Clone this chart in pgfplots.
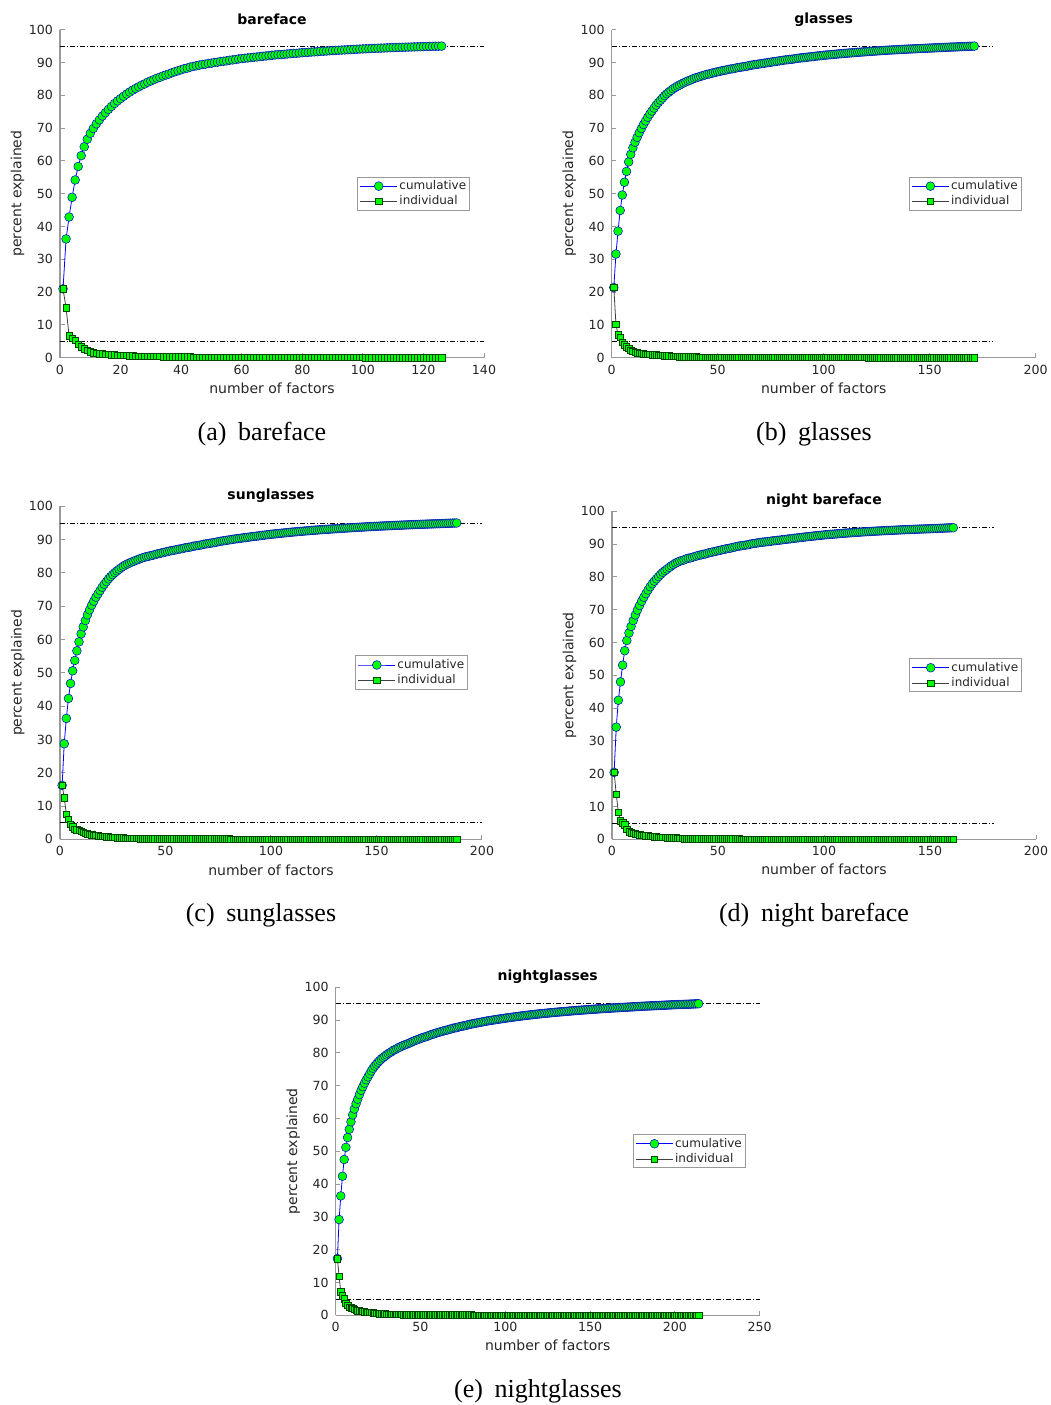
\documentclass[border=0pt]{standalone}
\usepackage{pgfplots}
\pgfplotsset{compat=1.18}
\usepackage{pgfplotstable}
\usepackage{fontspec}
\setmainfont{Liberation Serif}
\newfontfamily\dv{DejaVu Sans}
\definecolor{mgreen}{rgb}{0,1,0}
\definecolor{mtext}{rgb}{0.15,0.15,0.15}
\definecolor{maxis}{rgb}{0.6,0.6,0.6}

\pgfplotstableread[row sep=\\]{x c i\\
1 21.0 21.0\\ 2 36.2 15.2\\ 3 42.9 6.7\\ 4 48.9 6.0\\ 5 54.2 5.3\\ 6 58.3 4.1\\ 7 61.6 3.3\\ 8 64.3 2.7\\ 9 66.6 2.3\\ 10 68.4 1.8\\
11 69.9 1.5\\ 12 71.3 1.35\\ 13 72.5 1.25\\ 14 73.7 1.15\\ 15 74.7 1.05\\ 16 75.7 1.0\\ 17 76.6 0.9\\ 18 77.5 0.85\\ 19 78.3 0.8\\ 20 79.0 0.75\\
21 79.7 0.72\\ 22 80.4 0.67\\ 23 81.0 0.62\\ 24 81.6 0.57\\ 25 82.1 0.53\\ 26 82.6 0.5\\ 27 83.1 0.47\\ 28 83.5 0.45\\ 29 84.0 0.43\\ 30 84.4 0.41\\
31 84.8 0.39\\ 32 85.2 0.37\\ 33 85.5 0.36\\ 34 85.9 0.35\\ 35 86.2 0.34\\ 36 86.5 0.33\\ 37 86.9 0.33\\ 38 87.2 0.32\\ 39 87.5 0.31\\ 40 87.8 0.30\\
41 88.1 0.28\\ 42 88.3 0.26\\ 43 88.6 0.24\\ 44 88.8 0.22\\ 45 89.0 0.20\\ 46 89.2 0.19\\ 47 89.4 0.18\\ 48 89.5 0.17\\ 49 89.7 0.16\\ 50 89.8 0.15\\
51 90.0 0.14\\ 52 90.1 0.14\\ 53 90.3 0.14\\ 54 90.4 0.14\\ 55 90.5 0.14\\ 56 90.7 0.14\\ 57 90.8 0.14\\ 58 90.9 0.14\\ 59 91.1 0.14\\ 60 91.2 0.14\\
61 91.3 0.1\\ 62 91.4 0.1\\ 63 91.5 0.1\\ 64 91.6 0.1\\ 65 91.7 0.1\\ 66 91.8 0.1\\ 67 91.9 0.1\\ 68 92.0 0.1\\ 69 92.1 0.1\\ 70 92.2 0.1\\
71 92.3 0.08\\ 72 92.4 0.08\\ 73 92.4 0.08\\ 74 92.5 0.08\\ 75 92.6 0.08\\ 76 92.7 0.08\\ 77 92.8 0.08\\ 78 92.8 0.08\\ 79 92.9 0.08\\ 80 93.0 0.08\\
81 93.05 0.065\\ 82 93.1 0.065\\ 83 93.2 0.065\\ 84 93.25 0.065\\ 85 93.3 0.065\\ 86 93.4 0.065\\ 87 93.45 0.065\\ 88 93.5 0.065\\ 89 93.6 0.065\\ 90 93.65 0.065\\
91 93.7 0.05\\ 92 93.75 0.05\\ 93 93.8 0.05\\ 94 93.85 0.05\\ 95 93.9 0.05\\ 96 93.95 0.05\\ 97 94.0 0.05\\ 98 94.05 0.05\\ 99 94.1 0.05\\ 100 94.15 0.05\\
101 94.19 0.04\\ 102 94.23 0.04\\ 103 94.27 0.04\\ 104 94.31 0.04\\ 105 94.35 0.04\\ 106 94.39 0.04\\ 107 94.43 0.04\\ 108 94.47 0.04\\ 109 94.51 0.04\\ 110 94.55 0.04\\
111 94.58 0.03\\ 112 94.61 0.03\\ 113 94.64 0.03\\ 114 94.67 0.03\\ 115 94.70 0.03\\ 116 94.73 0.03\\ 117 94.76 0.03\\ 118 94.79 0.03\\ 119 94.82 0.03\\ 120 94.85 0.03\\
121 94.88 0.025\\ 122 94.9 0.025\\ 123 94.93 0.025\\ 124 94.95 0.025\\ 125 94.98 0.025\\ 126 95.0 0.025\\
}\tA

\pgfplotstableread[row sep=\\]{x c i\\
1 21.4 21.4\\ 2 31.6 10.2\\ 3 38.6 7.0\\ 4 44.9 6.3\\ 5 49.6 4.7\\ 6 53.5 3.9\\ 7 56.8 3.3\\ 8 59.7 2.9\\ 9 62.0 2.3\\ 10 64.0 2.0\\
11 65.7 1.7\\ 12 67.2 1.5\\ 13 68.6 1.4\\ 14 69.9 1.3\\ 15 71.1 1.2\\ 16 72.2 1.1\\ 17 73.3 1.05\\ 18 74.3 1.0\\ 19 75.2 0.95\\ 20 76.1 0.9\\
21 77.0 0.85\\ 22 77.8 0.8\\ 23 78.5 0.75\\ 24 79.2 0.7\\ 25 79.9 0.65\\ 26 80.5 0.58\\ 27 81.0 0.54\\ 28 81.5 0.5\\ 29 82.0 0.47\\ 30 82.4 0.45\\
31 82.8 0.38\\ 32 83.1 0.35\\ 33 83.5 0.33\\ 34 83.8 0.31\\ 35 84.1 0.30\\ 36 84.4 0.29\\ 37 84.6 0.28\\ 38 84.9 0.27\\ 39 85.2 0.25\\ 40 85.4 0.24\\
41 85.6 0.2\\ 42 85.8 0.2\\ 43 86.0 0.19\\ 44 86.2 0.19\\ 45 86.4 0.18\\ 46 86.5 0.18\\ 47 86.7 0.17\\ 48 86.9 0.17\\ 49 87.0 0.16\\ 50 87.2 0.16\\
51 87.3 0.13\\ 52 87.5 0.13\\ 53 87.6 0.13\\ 54 87.7 0.13\\ 55 87.9 0.13\\ 56 88.0 0.13\\ 57 88.1 0.13\\ 58 88.2 0.13\\ 59 88.4 0.13\\ 60 88.5 0.13\\
61 88.6 0.11\\ 62 88.7 0.11\\ 63 88.8 0.11\\ 64 88.9 0.11\\ 65 89.1 0.11\\ 66 89.2 0.11\\ 67 89.3 0.11\\ 68 89.4 0.11\\ 69 89.5 0.11\\ 70 89.6 0.11\\
71 89.7 0.1\\ 72 89.8 0.1\\ 73 89.9 0.1\\ 74 90.0 0.1\\ 75 90.1 0.1\\ 76 90.2 0.1\\ 77 90.3 0.1\\ 78 90.4 0.1\\ 79 90.5 0.1\\ 80 90.6 0.1\\
81 90.7 0.085\\ 82 90.8 0.085\\ 83 90.85 0.085\\ 84 90.95 0.085\\ 85 91.0 0.085\\ 86 91.1 0.085\\ 87 91.2 0.085\\ 88 91.3 0.085\\ 89 91.4 0.085\\ 90 91.45 0.085\\
91 91.5 0.075\\ 92 91.6 0.075\\ 93 91.7 0.075\\ 94 91.75 0.075\\ 95 91.8 0.075\\ 96 91.9 0.075\\ 97 92.0 0.075\\ 98 92.05 0.075\\ 99 92.1 0.075\\ 100 92.2 0.075\\
101 92.26 0.06\\ 102 92.32 0.06\\ 103 92.38 0.06\\ 104 92.44 0.06\\ 105 92.5 0.06\\ 106 92.56 0.06\\ 107 92.62 0.06\\ 108 92.68 0.06\\ 109 92.74 0.06\\ 110 92.8 0.06\\
111 92.85 0.05\\ 112 92.9 0.05\\ 113 92.95 0.05\\ 114 93.0 0.05\\ 115 93.05 0.05\\ 116 93.1 0.05\\ 117 93.15 0.05\\ 118 93.2 0.05\\ 119 93.25 0.05\\ 120 93.3 0.05\\
121 93.35 0.045\\ 122 93.39 0.045\\ 123 93.44 0.045\\ 124 93.48 0.045\\ 125 93.53 0.045\\ 126 93.57 0.045\\ 127 93.62 0.045\\ 128 93.66 0.045\\ 129 93.71 0.045\\ 130 93.75 0.045\\
131 93.79 0.035\\ 132 93.82 0.035\\ 133 93.86 0.035\\ 134 93.89 0.035\\ 135 93.93 0.035\\ 136 93.96 0.035\\ 137 94.0 0.035\\ 138 94.03 0.035\\ 139 94.07 0.035\\ 140 94.1 0.035\\
141 94.13 0.03\\ 142 94.16 0.03\\ 143 94.19 0.03\\ 144 94.22 0.03\\ 145 94.25 0.03\\ 146 94.28 0.03\\ 147 94.31 0.03\\ 148 94.34 0.03\\ 149 94.37 0.03\\ 150 94.4 0.03\\
151 94.43 0.03\\ 152 94.46 0.03\\ 153 94.49 0.03\\ 154 94.52 0.03\\ 155 94.55 0.03\\ 156 94.58 0.03\\ 157 94.61 0.03\\ 158 94.64 0.03\\ 159 94.67 0.03\\ 160 94.7 0.03\\
161 94.73 0.027\\ 162 94.75 0.027\\ 163 94.78 0.027\\ 164 94.81 0.027\\ 165 94.84 0.027\\ 166 94.86 0.027\\ 167 94.89 0.027\\ 168 94.92 0.027\\ 169 94.95 0.027\\ 170 94.97 0.027\\ 171 95.0 0.027\\
}\tB

\pgfplotstableread[row sep=\\]{x c i\\
1 16.2 16.2\\ 2 28.7 12.5\\ 3 36.3 7.6\\ 4 42.3 6.0\\ 5 46.8 4.5\\ 6 50.6 3.8\\ 7 53.7 3.1\\ 8 56.6 2.9\\ 9 59.3 2.7\\ 10 61.7 2.4\\
11 63.8 2.1\\ 12 65.7 1.9\\ 13 67.4 1.7\\ 14 68.9 1.5\\ 15 70.3 1.35\\ 16 71.5 1.25\\ 17 72.7 1.15\\ 18 73.7 1.05\\ 19 74.7 1.0\\ 20 75.7 0.95\\
21 76.6 0.9\\ 22 77.4 0.82\\ 23 78.2 0.76\\ 24 78.9 0.7\\ 25 79.5 0.64\\ 26 80.1 0.58\\ 27 80.6 0.53\\ 28 81.1 0.49\\ 29 81.6 0.45\\ 30 82.0 0.43\\
31 82.4 0.36\\ 32 82.7 0.33\\ 33 83.0 0.30\\ 34 83.3 0.28\\ 35 83.5 0.27\\ 36 83.8 0.25\\ 37 84.0 0.24\\ 38 84.3 0.23\\ 39 84.5 0.22\\ 40 84.7 0.22\\
41 84.9 0.16\\ 42 85.0 0.16\\ 43 85.2 0.16\\ 44 85.3 0.16\\ 45 85.5 0.16\\ 46 85.7 0.16\\ 47 85.8 0.16\\ 48 86.0 0.16\\ 49 86.1 0.16\\ 50 86.3 0.16\\
51 86.4 0.13\\ 52 86.6 0.13\\ 53 86.7 0.13\\ 54 86.8 0.13\\ 55 86.95 0.13\\ 56 87.1 0.13\\ 57 87.2 0.13\\ 58 87.3 0.13\\ 59 87.5 0.13\\ 60 87.6 0.13\\
61 87.7 0.12\\ 62 87.8 0.12\\ 63 88.0 0.12\\ 64 88.1 0.12\\ 65 88.2 0.12\\ 66 88.3 0.12\\ 67 88.4 0.12\\ 68 88.6 0.12\\ 69 88.7 0.12\\ 70 88.8 0.12\\
71 88.9 0.11\\ 72 89.0 0.11\\ 73 89.1 0.11\\ 74 89.2 0.11\\ 75 89.4 0.11\\ 76 89.5 0.11\\ 77 89.6 0.11\\ 78 89.7 0.11\\ 79 89.8 0.11\\ 80 89.9 0.11\\
81 90.0 0.09\\ 82 90.1 0.09\\ 83 90.2 0.09\\ 84 90.3 0.09\\ 85 90.35 0.09\\ 86 90.45 0.09\\ 87 90.55 0.09\\ 88 90.6 0.09\\ 89 90.7 0.09\\ 90 90.8 0.09\\
91 90.9 0.08\\ 92 90.95 0.08\\ 93 91.05 0.08\\ 94 91.1 0.08\\ 95 91.2 0.08\\ 96 91.3 0.08\\ 97 91.35 0.08\\ 98 91.45 0.08\\ 99 91.5 0.08\\ 100 91.6 0.08\\
101 91.67 0.065\\ 102 91.73 0.065\\ 103 91.8 0.065\\ 104 91.86 0.065\\ 105 91.93 0.065\\ 106 91.99 0.065\\ 107 92.06 0.065\\ 108 92.12 0.065\\ 109 92.19 0.065\\ 110 92.25 0.065\\
111 92.31 0.055\\ 112 92.36 0.055\\ 113 92.42 0.055\\ 114 92.47 0.055\\ 115 92.53 0.055\\ 116 92.58 0.055\\ 117 92.64 0.055\\ 118 92.69 0.055\\ 119 92.75 0.055\\ 120 92.8 0.055\\
121 92.85 0.045\\ 122 92.89 0.045\\ 123 92.94 0.045\\ 124 92.98 0.045\\ 125 93.03 0.045\\ 126 93.07 0.045\\ 127 93.12 0.045\\ 128 93.16 0.045\\ 129 93.21 0.045\\ 130 93.25 0.045\\
131 93.29 0.04\\ 132 93.33 0.04\\ 133 93.37 0.04\\ 134 93.41 0.04\\ 135 93.45 0.04\\ 136 93.49 0.04\\ 137 93.53 0.04\\ 138 93.57 0.04\\ 139 93.61 0.04\\ 140 93.65 0.04\\
141 93.69 0.035\\ 142 93.72 0.035\\ 143 93.76 0.035\\ 144 93.79 0.035\\ 145 93.83 0.035\\ 146 93.86 0.035\\ 147 93.9 0.035\\ 148 93.93 0.035\\ 149 93.97 0.035\\ 150 94.0 0.035\\
151 94.03 0.03\\ 152 94.06 0.03\\ 153 94.09 0.03\\ 154 94.12 0.03\\ 155 94.15 0.03\\ 156 94.18 0.03\\ 157 94.21 0.03\\ 158 94.24 0.03\\ 159 94.27 0.03\\ 160 94.3 0.03\\
161 94.33 0.027\\ 162 94.35 0.027\\ 163 94.38 0.027\\ 164 94.41 0.027\\ 165 94.44 0.027\\ 166 94.46 0.027\\ 167 94.49 0.027\\ 168 94.52 0.027\\ 169 94.54 0.027\\ 170 94.57 0.027\\
171 94.59 0.023\\ 172 94.62 0.023\\ 173 94.64 0.023\\ 174 94.66 0.023\\ 175 94.69 0.023\\ 176 94.71 0.023\\ 177 94.73 0.023\\ 178 94.75 0.023\\ 179 94.78 0.023\\ 180 94.8 0.023\\
181 94.83 0.025\\ 182 94.85 0.025\\ 183 94.88 0.025\\ 184 94.9 0.025\\ 185 94.93 0.025\\ 186 94.95 0.025\\ 187 94.98 0.025\\ 188 95.0 0.025\\
}\tC

\pgfplotstableread[row sep=\\]{x c i\\
1 20.4 20.4\\ 2 34.2 13.8\\ 3 42.4 8.2\\ 4 48.0 5.6\\ 5 53.1 5.1\\ 6 57.5 4.4\\ 7 60.6 3.1\\ 8 62.9 2.3\\ 9 64.9 2.0\\ 10 66.7 1.8\\
11 68.4 1.65\\ 12 69.9 1.5\\ 13 71.3 1.4\\ 14 72.6 1.3\\ 15 73.8 1.2\\ 16 74.9 1.1\\ 17 76.0 1.05\\ 18 77.0 1.0\\ 19 77.9 0.9\\ 20 78.7 0.8\\
21 79.4 0.75\\ 22 80.1 0.7\\ 23 80.8 0.65\\ 24 81.4 0.6\\ 25 81.9 0.55\\ 26 82.4 0.52\\ 27 82.9 0.49\\ 28 83.4 0.46\\ 29 83.8 0.44\\ 30 84.2 0.42\\
31 84.5 0.3\\ 32 84.8 0.27\\ 33 85.0 0.25\\ 34 85.2 0.23\\ 35 85.5 0.22\\ 36 85.7 0.2\\ 37 85.8 0.19\\ 38 86.0 0.18\\ 39 86.2 0.18\\ 40 86.4 0.18\\
41 86.6 0.16\\ 42 86.7 0.16\\ 43 86.9 0.16\\ 44 87.0 0.16\\ 45 87.2 0.16\\ 46 87.4 0.16\\ 47 87.5 0.16\\ 48 87.7 0.16\\ 49 87.8 0.16\\ 50 88.0 0.16\\
51 88.1 0.14\\ 52 88.3 0.14\\ 53 88.4 0.14\\ 54 88.6 0.14\\ 55 88.7 0.14\\ 56 88.8 0.14\\ 57 89.0 0.14\\ 58 89.1 0.14\\ 59 89.3 0.14\\ 60 89.4 0.14\\
61 89.5 0.11\\ 62 89.6 0.11\\ 63 89.7 0.11\\ 64 89.8 0.11\\ 65 89.95 0.11\\ 66 90.1 0.11\\ 67 90.2 0.11\\ 68 90.3 0.11\\ 69 90.4 0.11\\ 70 90.5 0.11\\
71 90.6 0.08\\ 72 90.65 0.08\\ 73 90.75 0.08\\ 74 90.8 0.08\\ 75 90.9 0.08\\ 76 91.0 0.08\\ 77 91.05 0.08\\ 78 91.15 0.08\\ 79 91.2 0.08\\ 80 91.3 0.08\\
81 91.4 0.08\\ 82 91.45 0.08\\ 83 91.55 0.08\\ 84 91.6 0.08\\ 85 91.7 0.08\\ 86 91.8 0.08\\ 87 91.85 0.08\\ 88 91.95 0.08\\ 89 92.0 0.08\\ 90 92.1 0.08\\
91 92.17 0.07\\ 92 92.24 0.07\\ 93 92.31 0.07\\ 94 92.38 0.07\\ 95 92.45 0.07\\ 96 92.52 0.07\\ 97 92.59 0.07\\ 98 92.66 0.07\\ 99 92.73 0.07\\ 100 92.8 0.07\\
101 92.86 0.055\\ 102 92.91 0.055\\ 103 92.97 0.055\\ 104 93.02 0.055\\ 105 93.08 0.055\\ 106 93.13 0.055\\ 107 93.19 0.055\\ 108 93.24 0.055\\ 109 93.3 0.055\\ 110 93.35 0.055\\
111 93.39 0.045\\ 112 93.44 0.045\\ 113 93.48 0.045\\ 114 93.53 0.045\\ 115 93.57 0.045\\ 116 93.62 0.045\\ 117 93.66 0.045\\ 118 93.71 0.045\\ 119 93.75 0.045\\ 120 93.8 0.045\\
121 93.84 0.035\\ 122 93.87 0.035\\ 123 93.91 0.035\\ 124 93.94 0.035\\ 125 93.98 0.035\\ 126 94.01 0.035\\ 127 94.05 0.035\\ 128 94.08 0.035\\ 129 94.12 0.035\\ 130 94.15 0.035\\
131 94.18 0.03\\ 132 94.21 0.03\\ 133 94.24 0.03\\ 134 94.27 0.03\\ 135 94.3 0.03\\ 136 94.33 0.03\\ 137 94.36 0.03\\ 138 94.39 0.03\\ 139 94.42 0.03\\ 140 94.45 0.03\\
141 94.48 0.025\\ 142 94.5 0.025\\ 143 94.53 0.025\\ 144 94.55 0.025\\ 145 94.58 0.025\\ 146 94.6 0.025\\ 147 94.63 0.025\\ 148 94.65 0.025\\ 149 94.68 0.025\\ 150 94.7 0.025\\
151 94.73 0.027\\ 152 94.75 0.027\\ 153 94.78 0.027\\ 154 94.81 0.027\\ 155 94.84 0.027\\ 156 94.86 0.027\\ 157 94.89 0.027\\ 158 94.92 0.027\\ 159 94.95 0.027\\ 160 94.97 0.027\\ 161 95.0 0.027\\
}\tD

\pgfplotstableread[row sep=\\]{x c i\\
1 17.3 17.3\\ 2 29.2 11.9\\ 3 36.4 7.2\\ 4 42.4 6.0\\ 5 47.5 5.1\\ 6 51.2 3.7\\ 7 54.2 3.0\\ 8 56.7 2.5\\ 9 59.0 2.3\\ 10 61.1 2.1\\
11 62.9 1.8\\ 12 64.5 1.6\\ 13 65.9 1.45\\ 14 67.3 1.35\\ 15 68.6 1.25\\ 16 69.7 1.15\\ 17 70.8 1.05\\ 18 71.8 1.0\\ 19 72.7 0.95\\ 20 73.6 0.9\\
21 74.5 0.85\\ 22 75.3 0.8\\ 23 76.0 0.7\\ 24 76.6 0.62\\ 25 77.2 0.57\\ 26 77.7 0.52\\ 27 78.2 0.48\\ 28 78.6 0.45\\ 29 79.0 0.42\\ 30 79.4 0.40\\
31 79.8 0.37\\ 32 80.1 0.35\\ 33 80.4 0.33\\ 34 80.8 0.31\\ 35 81.0 0.29\\ 36 81.3 0.27\\ 37 81.6 0.26\\ 38 81.8 0.25\\ 39 82.1 0.24\\ 40 82.3 0.23\\
41 82.5 0.21\\ 42 82.7 0.21\\ 43 82.9 0.21\\ 44 83.1 0.21\\ 45 83.4 0.21\\ 46 83.6 0.21\\ 47 83.8 0.21\\ 48 84.0 0.21\\ 49 84.2 0.21\\ 50 84.4 0.21\\
51 84.6 0.18\\ 52 84.8 0.18\\ 53 84.9 0.18\\ 54 85.1 0.18\\ 55 85.3 0.18\\ 56 85.5 0.18\\ 57 85.7 0.18\\ 58 85.8 0.18\\ 59 86.0 0.18\\ 60 86.2 0.18\\
61 86.3 0.14\\ 62 86.5 0.14\\ 63 86.6 0.14\\ 64 86.8 0.14\\ 65 86.9 0.14\\ 66 87.0 0.14\\ 67 87.2 0.14\\ 68 87.3 0.14\\ 69 87.5 0.14\\ 70 87.6 0.14\\
71 87.7 0.12\\ 72 87.8 0.12\\ 73 88.0 0.12\\ 74 88.1 0.12\\ 75 88.2 0.12\\ 76 88.3 0.12\\ 77 88.4 0.12\\ 78 88.6 0.12\\ 79 88.7 0.12\\ 80 88.8 0.12\\
81 88.9 0.1\\ 82 89.0 0.1\\ 83 89.1 0.1\\ 84 89.2 0.1\\ 85 89.3 0.1\\ 86 89.4 0.1\\ 87 89.5 0.1\\ 88 89.6 0.1\\ 89 89.7 0.1\\ 90 89.8 0.1\\
91 89.9 0.08\\ 92 89.95 0.08\\ 93 90.05 0.08\\ 94 90.1 0.08\\ 95 90.2 0.08\\ 96 90.3 0.08\\ 97 90.35 0.08\\ 98 90.45 0.08\\ 99 90.5 0.08\\ 100 90.6 0.08\\
101 90.67 0.07\\ 102 90.74 0.07\\ 103 90.81 0.07\\ 104 90.88 0.07\\ 105 90.95 0.07\\ 106 91.02 0.07\\ 107 91.09 0.07\\ 108 91.16 0.07\\ 109 91.23 0.07\\ 110 91.3 0.07\\
111 91.36 0.06\\ 112 91.42 0.06\\ 113 91.48 0.06\\ 114 91.54 0.06\\ 115 91.6 0.06\\ 116 91.66 0.06\\ 117 91.72 0.06\\ 118 91.78 0.06\\ 119 91.84 0.06\\ 120 91.9 0.06\\
121 91.95 0.05\\ 122 92.0 0.05\\ 123 92.05 0.05\\ 124 92.1 0.05\\ 125 92.15 0.05\\ 126 92.2 0.05\\ 127 92.25 0.05\\ 128 92.3 0.05\\ 129 92.35 0.05\\ 130 92.4 0.05\\
131 92.45 0.045\\ 132 92.49 0.045\\ 133 92.54 0.045\\ 134 92.58 0.045\\ 135 92.63 0.045\\ 136 92.67 0.045\\ 137 92.72 0.045\\ 138 92.76 0.045\\ 139 92.81 0.045\\ 140 92.85 0.045\\
141 92.89 0.04\\ 142 92.93 0.04\\ 143 92.97 0.04\\ 144 93.01 0.04\\ 145 93.05 0.04\\ 146 93.09 0.04\\ 147 93.13 0.04\\ 148 93.17 0.04\\ 149 93.21 0.04\\ 150 93.25 0.04\\
151 93.29 0.035\\ 152 93.32 0.035\\ 153 93.36 0.035\\ 154 93.39 0.035\\ 155 93.43 0.035\\ 156 93.46 0.035\\ 157 93.5 0.035\\ 158 93.53 0.035\\ 159 93.57 0.035\\ 160 93.6 0.035\\
161 93.63 0.03\\ 162 93.66 0.03\\ 163 93.69 0.03\\ 164 93.72 0.03\\ 165 93.75 0.03\\ 166 93.78 0.03\\ 167 93.81 0.03\\ 168 93.84 0.03\\ 169 93.87 0.03\\ 170 93.9 0.03\\
171 93.93 0.03\\ 172 93.96 0.03\\ 173 93.99 0.03\\ 174 94.02 0.03\\ 175 94.05 0.03\\ 176 94.08 0.03\\ 177 94.11 0.03\\ 178 94.14 0.03\\ 179 94.17 0.03\\ 180 94.2 0.03\\
181 94.23 0.025\\ 182 94.25 0.025\\ 183 94.28 0.025\\ 184 94.3 0.025\\ 185 94.33 0.025\\ 186 94.35 0.025\\ 187 94.38 0.025\\ 188 94.4 0.025\\ 189 94.43 0.025\\ 190 94.45 0.025\\
191 94.48 0.025\\ 192 94.5 0.025\\ 193 94.53 0.025\\ 194 94.55 0.025\\ 195 94.58 0.025\\ 196 94.6 0.025\\ 197 94.63 0.025\\ 198 94.65 0.025\\ 199 94.68 0.025\\ 200 94.7 0.025\\
201 94.72 0.02\\ 202 94.74 0.02\\ 203 94.76 0.02\\ 204 94.78 0.02\\ 205 94.8 0.02\\ 206 94.82 0.02\\ 207 94.84 0.02\\ 208 94.86 0.02\\ 209 94.88 0.02\\ 210 94.9 0.02\\
211 94.93 0.025\\ 212 94.95 0.025\\ 213 94.98 0.025\\ 214 95.0 0.025\\
}\tE

\pgfplotsset{
  mstyle/.style={
    scale only axis, width=212pt, height=164pt,
    xmin=0, ymin=0, ymax=100,
    axis lines*=left,
    axis line style={maxis, line width=0.6pt, -},
    every tick/.style={maxis, line width=0.5pt},
    tick align=inside, major tick length=2.3pt,
    ytick={0,10,...,100},
    clip=false,
    /pgf/number format/assume math mode=true,
    tick label style={font=\dv\fontsize{6.3}{7}\selectfont, text=mtext},
    every axis x label/.style={at={(axis description cs:0.5,-0.092)}, anchor=center, font=\dv\fontsize{7}{8}\selectfont, text=mtext},
    every axis y label/.style={at={(axis description cs:-0.1,0.5)}, rotate=90, anchor=center, font=\dv\fontsize{7}{8}\selectfont, text=mtext},
    every axis title/.style={at={(axis description cs:0.5,1.032)}, anchor=center, font=\dv\bfseries\fontsize{7}{8}\selectfont},
    xlabel={number of factors}, ylabel={percent explained},
    legend cell align=left,
    legend style={at={(rel axis cs:0.968,0.552)}, anchor=north east, draw=maxis, line width=0.5pt,
      font=\dv\fontsize{6}{7}\selectfont, text=mtext, inner xsep=1pt, inner ysep=0.7pt,
      nodes={text height=4.6pt, text depth=1.2pt, inner sep=0.9pt}},
    legend image code/.code={\draw[mark repeat=2,mark phase=2,##1] plot coordinates {(0pt,0pt) (9.25pt,0pt) (18.5pt,0pt)};},
  },
  cum/.style={draw=blue, line width=0.4pt, mark=*, mark size=2.2pt, mark options={fill=mgreen, draw=blue!85!black, line width=0.25pt, solid}},
  ind/.style={draw=black!75, line width=0.4pt, mark=square*, mark size=1.6pt, mark options={fill=mgreen, draw=black!55!green!60!black, line width=0.25pt, solid}},
  refl/.style={black, line width=0.4pt, dash pattern=on 2.5pt off 1pt on 0.5pt off 1pt, forget plot},
}

\begin{document}
\begin{tikzpicture}
\useasboundingbox (0,0) rectangle (525.5pt,-702.5pt);

\begin{axis}[mstyle, at={(30pt,-178.85pt)}, anchor=south west, xmax=140, xtick={0,20,...,140}, title={bareface}]
\addplot[refl] coordinates {(0,95) (140,95)};
\addplot[refl] coordinates {(0,5) (140,5)};
\addplot[cum] table[x=x,y=c]{\tA};
\addplot[ind] table[x=x,y=i]{\tA};
\legend{cumulative,individual}
\end{axis}

\begin{axis}[mstyle, at={(305.85pt,-178.85pt)}, anchor=south west, xmax=200, xtick={0,50,...,200}, title={glasses}]
\addplot[refl] coordinates {(0,95) (180,95)};
\addplot[refl] coordinates {(0,5) (180,5)};
\addplot[cum] table[x=x,y=c]{\tB};
\addplot[ind] table[x=x,y=i]{\tB};
\legend{cumulative,individual}
\end{axis}

\begin{axis}[mstyle, at={(30pt,-419.65pt)}, anchor=south west, width=211pt, height=166.5pt, xmax=200, xtick={0,50,...,200}, title={sunglasses}]
\addplot[refl] coordinates {(0,95) (200,95)};
\addplot[refl] coordinates {(0,5) (200,5)};
\addplot[cum] table[x=x,y=c]{\tC};
\addplot[ind] table[x=x,y=i]{\tC};
\legend{cumulative,individual}
\end{axis}

\begin{axis}[mstyle, at={(306pt,-419.65pt)}, anchor=south west, xmax=200, xtick={0,50,...,200}, title={night bareface}]
\addplot[refl] coordinates {(0,95) (180,95)};
\addplot[refl] coordinates {(0,5) (180,5)};
\addplot[cum] table[x=x,y=c]{\tD};
\addplot[ind] table[x=x,y=i]{\tD};
\legend{cumulative,individual}
\end{axis}

\begin{axis}[mstyle, at={(167.85pt,-657.65pt)}, anchor=south west, xmax=250, xtick={0,50,...,250}, title={nightglasses}]
\addplot[refl] coordinates {(0,95) (250,95)};
\addplot[refl] coordinates {(0,5) (250,5)};
\addplot[cum] table[x=x,y=c]{\tE};
\addplot[ind] table[x=x,y=i]{\tE};
\legend{cumulative,individual}
\end{axis}

\node[anchor=base, font=\fontsize{13}{15}\selectfont] at (131pt,-220pt) {(a)\hspace{0.45em}bareface};
\node[anchor=base, font=\fontsize{13}{15}\selectfont] at (407pt,-220pt) {(b)\hspace{0.45em}glasses};
\node[anchor=base, font=\fontsize{13}{15}\selectfont] at (130.5pt,-460.8pt) {(c)\hspace{0.45em}sunglasses};
\node[anchor=base, font=\fontsize{13}{15}\selectfont] at (407pt,-460.8pt) {(d)\hspace{0.45em}night bareface};
\node[anchor=base, font=\fontsize{13}{15}\selectfont] at (269pt,-698.8pt) {(e)\hspace{0.45em}nightglasses};
\end{tikzpicture}
\end{document}
